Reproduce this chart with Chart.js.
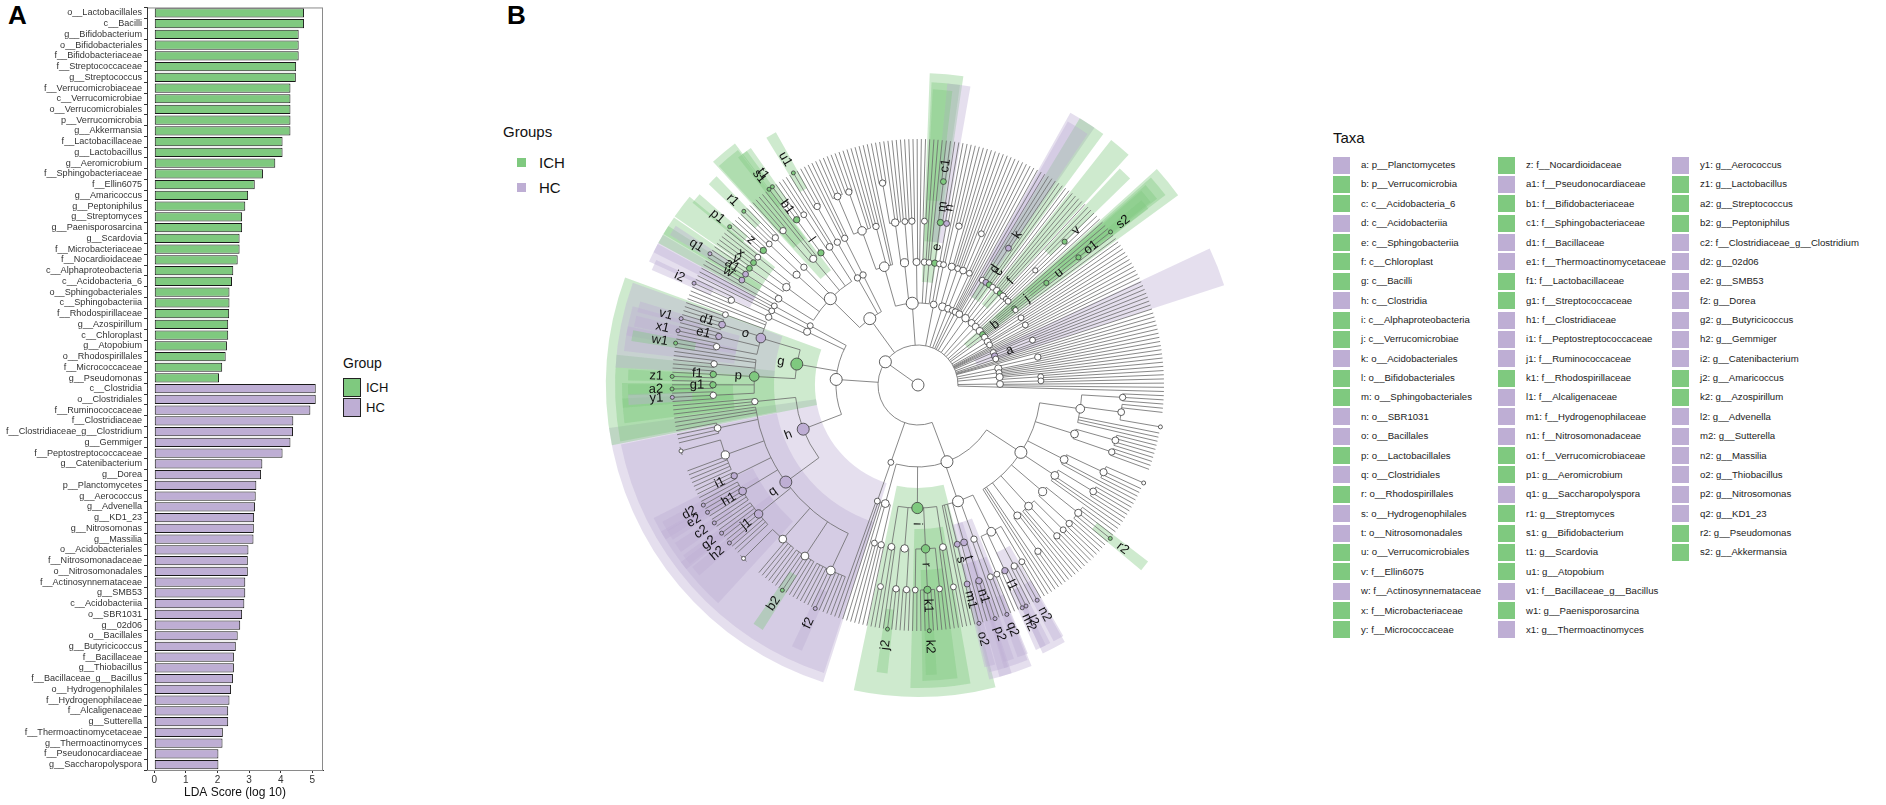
<!DOCTYPE html>
<html><head><meta charset="utf-8">
<script src="https://cdn.jsdelivr.net/npm/chart.js@4.4.1/dist/chart.umd.min.js"></script>
<style>
html,body{margin:0;padding:0;background:#fff}
body{width:1886px;height:805px;position:relative;overflow:hidden;font-family:"Liberation Sans",Arial,sans-serif;color:#111}
.abs{position:absolute}
.panel{font-weight:bold;font-size:26px;line-height:26px;color:#000}
.sw{position:absolute}
.lg{position:absolute;white-space:nowrap}
</style></head><body>
<div class="abs panel" style="left:8px;top:2px">A</div>
<div class="abs panel" style="left:507px;top:2px">B</div>
<canvas id="barChart" class="abs" style="left:0;top:0;width:330px;height:805px" width="330" height="805"></canvas>
<div id="legA"></div>
<div id="legB"></div>
<canvas id="cladeChart" class="abs" style="left:588px;top:55px;width:660px;height:660px" width="660" height="660"></canvas>
<div id="taxaLegend"></div>
<script>
// ---------------- data ----------------
const ichTaxa = ['o__Lactobacillales','c__Bacilli','g__Bifidobacterium','o__Bifidobacteriales','f__Bifidobacteriaceae','f__Streptococcaceae','g__Streptococcus','f__Verrucomicrobiaceae','c__Verrucomicrobiae','o__Verrucomicrobiales','p__Verrucomicrobia','g__Akkermansia','f__Lactobacillaceae','g__Lactobacillus','g__Aeromicrobium','f__Sphingobacteriaceae','f__Ellin6075','g__Amaricoccus','g__Peptoniphilus','g__Streptomyces','g__Paenisporosarcina','g__Scardovia','f__Microbacteriaceae','f__Nocardioidaceae','c__Alphaproteobacteria','c__Acidobacteria_6','o__Sphingobacteriales','c__Sphingobacteriia','f__Rhodospirillaceae','g__Azospirillum','c__Chloroplast','g__Atopobium','o__Rhodospirillales','f__Micrococcaceae','g__Pseudomonas'];
const ichScores = [4.74,4.74,4.57,4.57,4.57,4.49,4.48,4.31,4.31,4.31,4.31,4.31,4.06,4.06,3.83,3.44,3.18,2.97,2.88,2.78,2.78,2.70,2.70,2.64,2.50,2.46,2.38,2.38,2.37,2.34,2.34,2.30,2.26,2.15,2.05];
const hcTaxa = ['c__Clostridia','o__Clostridiales','f__Ruminococcaceae','f__Clostridiaceae','f__Clostridiaceae_g__Clostridium','g__Gemmiger','f__Peptostreptococcaceae','g__Catenibacterium','g__Dorea','p__Planctomycetes','g__Aerococcus','g__Advenella','g__KD1_23','g__Nitrosomonas','g__Massilia','o__Acidobacteriales','f__Nitrosomonadaceae','o__Nitrosomonadales','f__Actinosynnemataceae','g__SMB53','c__Acidobacteriia','o__SBR1031','g__02d06','o__Bacillales','g__Butyricicoccus','f__Bacillaceae','g__Thiobacillus','f__Bacillaceae_g__Bacillus','o__Hydrogenophilales','f__Hydrogenophilaceae','f__Alcaligenaceae','g__Sutterella','f__Thermoactinomycetaceae','g__Thermoactinomyces','f__Pseudonocardiaceae','g__Saccharopolyspora'];
const hcScores = [5.11,5.11,4.94,4.40,4.39,4.31,4.06,3.42,3.38,3.23,3.21,3.19,3.16,3.15,3.14,2.98,2.96,2.96,2.88,2.88,2.85,2.78,2.72,2.64,2.58,2.52,2.52,2.49,2.43,2.38,2.34,2.34,2.17,2.16,2.03,2.03];
const xTicks = [0,1,2,3,4,5];
const groupNames = ['ICH','HC'];
const groupColors = ['#7FC97F','#BEAED4'];
const shadeColors = ['rgba(127,201,127,0.38)','rgba(190,174,212,0.40)'];

const taxaCodes = ['a','b','c','d','e','f','g','h','i','j','k','l','m','n','o','p','q','r','s','t','u','v','w','x','y',
 'z','a1','b1','c1','d1','e1','f1','g1','h1','i1','j1','k1','l1','m1','n1','o1','p1','q1','r1','s1','t1','u1','v1','w1','x1',
 'y1','z1','a2','b2','c2','d2','e2','f2','g2','h2','i2','j2','k2','l2','m2','n2','o2','p2','q2','r2','s2'];
const taxaNames = ['p__Planctomycetes','p__Verrucomicrobia','c__Acidobacteria_6','c__Acidobacteriia','c__Sphingobacteriia','c__Chloroplast','c__Bacilli','c__Clostridia','c__Alphaproteobacteria','c__Verrucomicrobiae','o__Acidobacteriales','o__Bifidobacteriales','o__Sphingobacteriales','o__SBR1031','o__Bacillales','o__Lactobacillales','o__Clostridiales','o__Rhodospirillales','o__Hydrogenophilales','o__Nitrosomonadales','o__Verrucomicrobiales','f__Ellin6075','f__Actinosynnemataceae','f__Microbacteriaceae','f__Micrococcaceae',
 'f__Nocardioidaceae','f__Pseudonocardiaceae','f__Bifidobacteriaceae','f__Sphingobacteriaceae','f__Bacillaceae','f__Thermoactinomycetaceae','f__Lactobacillaceae','f__Streptococcaceae','f__Clostridiaceae','f__Peptostreptococcaceae','f__Ruminococcaceae','f__Rhodospirillaceae','f__Alcaligenaceae','f__Hydrogenophilaceae','f__Nitrosomonadaceae','f__Verrucomicrobiaceae','g__Aeromicrobium','g__Saccharopolyspora','g__Streptomyces','g__Bifidobacterium','g__Scardovia','g__Atopobium','f__Bacillaceae_g__Bacillus','g__Paenisporosarcina','g__Thermoactinomyces',
 'g__Aerococcus','g__Lactobacillus','g__Streptococcus','g__Peptoniphilus','f__Clostridiaceae_g__Clostridium','g__02d06','g__SMB53','g__Dorea','g__Butyricicoccus','g__Gemmiger','g__Catenibacterium','g__Amaricoccus','g__Azospirillum','g__Advenella','g__Sutterella','g__Massilia','g__Thiobacillus','g__Nitrosomonas','g__KD1_23','g__Pseudomonas','g__Akkermansia'];
const taxaPerColumn = [25,25,21];

// cladogram taxonomy in clockwise order: node = [code, ...children]; a number = that many unlabelled genus leaves
const cladeTree = ['',
  ['',
    ['',
      ['', ['', 3], ['', 2, ['', 2]], 2, 1],
      ['', ['', 4], ['', 3]],
      ['', ['', ['', 2], 3], 2],
      ['', ['', 4], 3],
      ['', ['', 2, ['r2'], 2], ['', 3]],
      ['', ['', 2], ['', 3], 2],
      ['', 2, ['', 3]],
      3],
    ['',
      ['', ['', 2], ['', ['n2'], 2], ['l1', ['l2'], ['m2'], 1], ['', 2]],
      ['', ['', ['q2'], 1], 1],
      ['t', ['n1', ['p2'], 2], 1],
      ['s', ['m1', ['o2'], 1]],
      2],
    ['i',
      ['', ['', 2], 2],
      ['r', ['', 2], ['k1', 2, ['k2'], 2], ['', 2]],
      ['', ['', 3], ['', 2, ['j2']]],
      ['', 2, ['', 2]]],
    ['', ['', 3], ['', 2], 2]],
  ['', ['', 2]],
  ['',
    ['h',
      ['q',
        ['', 4, ['f2'], 5],
        ['', 3, ['b2'], 3],
        ['', 4, ['', 3]],
        ['j1', 3, ['h2'], 2, ['g2'], 2],
        ['h1', ['c2'], 2, ['e2'], 1, ['d2'], 1],
        ['i1', 3],
        ['', 5, ['', 3]],
        ['', 4],
        3],
      ['', 3]],
    ['g',
      ['p', ['', 1, ['y1'], 1], ['g1', ['a2'], 2], ['f1', ['z1'], 2], ['', 3], 2],
      ['o', ['', ['w1'], 2], ['e1', ['x1'], 2], ['d1', ['v1'], 3], ['', 2], 2]],
    ['', ['', ['', 1, ['i2'], 1]], ['', 2]],
    ['', ['', 2]]],
  ['',
    ['',
      ['', ['w', 2], ['a1', ['q1'], 1]],
      ['', ['y', 2], ['x', 2], ['', 2]],
      ['', ['z', ['p1'], 2], ['', 2]],
      ['', ['', ['r1'], 2]],
      ['', ['', 3], 2],
      ['l', ['b1', ['s1'], ['t1'], 1]],
      ['', ['', 2], 2]],
    ['', ['', ['', ['u1'], 2]]],
    ['', ['', 3]]],
  ['',
    ['', ['', ['', 4], ['', 3], 2], ['', 3], 2],
    ['', ['', ['', 3], 3], ['', 2]],
    ['', ['', 3], 2],
    ['', ['', 2], 1],
    ['', 2],
    ['e', ['m', ['c1', 2], 1]]],
  ['', ['', ['n', 2]], ['', 2]],
  ['', ['', ['', 3], 2], ['', 2]],
  ['', ['', 2, ['', 2]]],
  ['', ['', 2]],
  ['', 3],
  ['', 2, ['', 2]],
  ['', ['d', ['k', 2]], ['c', 2], ['', 2]],
  ['', ['', 3], ['f', 1]],
  ['', ['', 3], ['', ['', ['v', 1]]]],
  ['', ['', 2], 3],
  ['b', ['j', ['u', ['o1', ['s2']]]], ['', 1]],
  ['', 3],
  ['', ['', 2], 2],
  ['', ['', 2]],
  4,
  ['', 2],
  ['a', ['', 2], 1],
  ['', 2],
  3,
  ['', ['', 3], 2],
  ['', 2],
  ['', 3, ['', 2]],
  ['', ['', 2], 2],
  1
];

// ---------------- panel A: LDA bar chart ----------------
const taxaLabels = ichTaxa.concat(hcTaxa);
const ldaScores = ichScores.concat(hcScores);
const barColors = taxaLabels.map(t => ichTaxa.includes(t) ? groupColors[0] : groupColors[1]);

const framePlugin = {
  id: 'frame',
  afterDraw(chart) {
    const {ctx, chartArea: a} = chart;
    ctx.save();
    ctx.strokeStyle = '#8a8a8a'; ctx.lineWidth = 1;
    ctx.strokeRect(a.left + 0.5, a.top + 0.5, a.right - a.left - 1, a.bottom - a.top);
    ctx.strokeStyle = '#333';
    ctx.beginPath(); ctx.moveTo(a.left + 0.5, a.top); ctx.lineTo(a.left + 0.5, a.bottom); ctx.stroke();
    ctx.restore();
  }
};

new Chart(document.getElementById('barChart'), {
  type: 'bar',
  data: {
    labels: taxaLabels,
    datasets: [{
      data: ldaScores, backgroundColor: barColors, borderColor: '#1a1a1a', borderWidth: 1,
      borderSkipped: false, barPercentage: 0.86, categoryPercentage: 1
    }]
  },
  options: {
    indexAxis: 'y', responsive: false, animation: false,
    layout: {padding: {top: 5, right: 7, bottom: 0, left: 0}},
    plugins: {legend: {display: false}, tooltip: {enabled: false}},
    scales: {
      y: {
        afterFit(s) { s.width = 147; },
        grid: {display: true, drawOnChartArea: false, drawTicks: true, tickLength: 3, color: '#333'},
        border: {display: true, color: '#333'},
        ticks: {autoSkip: false, font: {size: 9.1, family: 'Liberation Sans'}, color: '#333', padding: 2}
      },
      x: {
        min: -0.23, max: 5.34,
        afterBuildTicks(s) { s.ticks = xTicks.map(v => ({value: v})); },
        afterFit(s) { s.height = 35; },
        grid: {display: true, drawOnChartArea: false, drawTicks: true, tickLength: 3, color: '#333'},
        border: {display: true, color: '#333'},
        ticks: {font: {size: 10, family: 'Liberation Sans'}, color: '#333', padding: 1, maxRotation: 0},
        title: {display: true, text: 'LDA Score (log 10)', font: {size: 12, family: 'Liberation Sans'}, color: '#111', padding: {top: 0, bottom: 5}}
      }
    }
  },
  plugins: [framePlugin]
});

// legends (HTML)
function addLegendA() {
  const el = document.getElementById('legA');
  let h = '<div class="lg" style="left:343px;top:355px;font-size:14px;line-height:16px">Group</div>';
  groupNames.forEach((g, i) => {
    const top = 378 + i * 20;
    h += `<div class="sw" style="left:343px;top:${top}px;width:16px;height:17px;background:${groupColors[i]};border:1px solid #222"></div>`;
    h += `<div class="lg" style="left:366px;top:${top + 2}px;font-size:13px;line-height:15px">${g}</div>`;
  });
  el.innerHTML = h;
}
function addLegendB() {
  const el = document.getElementById('legB');
  let h = '<div class="lg" style="left:503px;top:123px;font-size:15px;line-height:18px">Groups</div>';
  groupNames.forEach((g, i) => {
    const top = 158 + i * 24.5;
    h += `<div class="sw" style="left:517px;top:${top}px;width:9px;height:9px;background:${groupColors[i]}"></div>`;
    h += `<div class="lg" style="left:539px;top:${top - 4}px;font-size:15px;line-height:18px">${g}</div>`;
  });
  el.innerHTML = h;
}
function addTaxaLegend() {
  const el = document.getElementById('taxaLegend');
  const colX = [1333, 1498, 1672];
  let h = '<div class="lg" style="left:1333px;top:129px;font-size:15px;line-height:18px">Taxa</div>';
  let k = 0;
  taxaPerColumn.forEach((n, c) => {
    for (let r = 0; r < n; r++, k++) {
      const cy = 165 + r * 19.37;
      const g = ichTaxa.includes(taxaNames[k]) ? 0 : 1;
      h += `<div class="sw" style="left:${colX[c]}px;top:${(cy - 8.5).toFixed(1)}px;width:17px;height:17px;background:${groupColors[g]}"></div>`;
      h += `<div class="lg" style="left:${colX[c] + 28}px;top:${(cy - 7).toFixed(1)}px;font-size:9.6px;line-height:14px;color:#222">${taxaCodes[k]}: ${taxaNames[k]}</div>`;
    }
  });
  el.innerHTML = h;
}
addLegendA(); addLegendB(); addTaxaLegend();

// ---------------- panel B: cladogram on a doughnut's angular scale ----------------
const GENUS = 6;
const codeGroup = {};
taxaCodes.forEach((c, i) => { codeGroup[c] = ichTaxa.includes(taxaNames[i]) ? 0 : 1; });

function buildNode(arr, level) {
  const node = {code: arr[0], level, children: [], plain: false};
  for (let i = 1; i < arr.length; i++) {
    const c = arr[i];
    if (typeof c === 'number') { for (let k = 0; k < c; k++) node.children.push({code: '', level: GENUS, children: [], plain: true, leaves: 1}); }
    else node.children.push(buildNode(c, level + 1));
  }
  node.leaves = node.children.length ? node.children.reduce((s, c) => s + c.leaves, 0) : 1;
  return node;
}
const rootClade = buildNode(cladeTree, 1);
const segs = [[], [], [], [], [], [], []];
const allNodes = [];
function assign(node, parentLevel) {
  for (let l = parentLevel + 1; l < node.level; l++) segs[l].push(node.leaves);
  node.seg = segs[node.level].length;
  segs[node.level].push(node.leaves);
  allNodes.push(node);
  node.children.forEach(c => assign(c, node.level));
}
assign(rootClade, 0);

const levelRadius = [0, 40, 82, 123, 164, 205, 246];
const shadeOuter = [0, 0, 322, 312, 303, 296, 290];
const shadePad = [0, 0, 2.0, 1.6, 1.2, 0.9, 0.6];
const nodeRadius = n => n.level === GENUS ? 2 : Math.min(6, 1.8 + 0.8 * Math.sqrt(n.leaves));

function layout(chart) {
  const k = chart.getDatasetMeta(0).data[0];
  const cx = k.x, cy = k.y, scale = k.outerRadius / 330;
  allNodes.forEach(n => {
    const el = chart.getDatasetMeta(n.level - 1).data[n.seg];
    n.start = el.startAngle; n.end = el.endAngle;
  });
  (function ang(n) {
    if (!n.children.length) n.angle = (n.start + n.end) / 2;
    else { n.children.forEach(ang); n.angle = (n.children[0].angle + n.children[n.children.length - 1].angle) / 2; }
  })(rootClade);
  return {cx, cy, scale};
}

const cladePlugin = {
  id: 'clade',
  beforeDatasetsDraw(chart) {
    const {cx, cy, scale} = layout(chart);
    const ctx = chart.ctx; ctx.save();
    allNodes.filter(n => n.code).sort((a, b) => a.level - b.level).forEach(n => {
      const pad = shadePad[n.level] * Math.PI / 180;
      const r0 = (levelRadius[n.level] - 20) * scale, r1 = shadeOuter[n.level] * scale;
      ctx.beginPath();
      ctx.arc(cx, cy, r1, n.start - pad, n.end + pad);
      ctx.arc(cx, cy, r0, n.end + pad, n.start - pad, true);
      ctx.closePath();
      ctx.fillStyle = shadeColors[codeGroup[n.code]];
      ctx.fill();
    });
    ctx.restore();
  },
  afterDatasetsDraw(chart) {
    const {cx, cy, scale} = layout(chart);
    const ctx = chart.ctx; ctx.save();
    const P = (r, a) => [cx + r * scale * Math.cos(a), cy + r * scale * Math.sin(a)];
    ctx.strokeStyle = '#6a6a6a'; ctx.lineWidth = 0.8;
    ctx.beginPath(); ctx.moveTo(cx, cy); ctx.lineTo(...P(levelRadius[1], rootClade.angle)); ctx.stroke();
    allNodes.forEach(n => {
      if (!n.children.length) return;
      const R = levelRadius[n.level];
      const a0 = n.children[0].angle, a1 = n.children[n.children.length - 1].angle;
      if (a1 > a0) { ctx.beginPath(); ctx.arc(cx, cy, R * scale, a0, a1); ctx.stroke(); }
      ctx.beginPath();
      n.children.forEach(c => { ctx.moveTo(...P(R, c.angle)); ctx.lineTo(...P(levelRadius[c.level], c.angle)); });
      ctx.stroke();
    });
    ctx.lineWidth = 0.8; ctx.strokeStyle = '#3a3a3a';
    ctx.beginPath(); ctx.arc(cx, cy, 6 * scale, 0, 2 * Math.PI); ctx.fillStyle = '#fff'; ctx.fill(); ctx.stroke();
    allNodes.filter(n => !n.plain).forEach(n => {
      const [x, y] = P(levelRadius[n.level], n.angle);
      ctx.beginPath(); ctx.arc(x, y, nodeRadius(n) * scale, 0, 2 * Math.PI);
      ctx.fillStyle = n.code ? groupColors[codeGroup[n.code]] : '#fff';
      ctx.fill(); ctx.stroke();
    });
    ctx.fillStyle = '#111'; ctx.font = '13px "Liberation Sans", Arial, sans-serif';
    ctx.textAlign = 'center'; ctx.textBaseline = 'middle';
    allNodes.filter(n => n.code).forEach(n => {
      const r = n.level === GENUS ? 262 : levelRadius[n.level] + 16;
      const [x, y] = P(r, n.angle);
      let a = n.angle % (2 * Math.PI); if (a > Math.PI) a -= 2 * Math.PI;
      const rot = (a > Math.PI / 2 + 0.05 || a < -Math.PI / 2) ? a + Math.PI : a;
      ctx.save(); ctx.translate(x, y); ctx.rotate(rot); ctx.fillText(n.code, 0, 0); ctx.restore();
    });
    ctx.restore();
  }
};

new Chart(document.getElementById('cladeChart'), {
  type: 'doughnut',
  data: {
    labels: segs[GENUS].map((_, i) => 'leaf' + i),
    datasets: [1, 2, 3, 4, 5, 6].map(l => ({data: segs[l], backgroundColor: 'rgba(0,0,0,0)', borderWidth: 0, hoverOffset: 0}))
  },
  options: {
    responsive: false, animation: false, rotation: 92, cutout: 0,
    layout: {padding: 0},
    events: [],
    plugins: {legend: {display: false}, tooltip: {enabled: false}}
  },
  plugins: [cladePlugin]
});
</script>
</body></html>
